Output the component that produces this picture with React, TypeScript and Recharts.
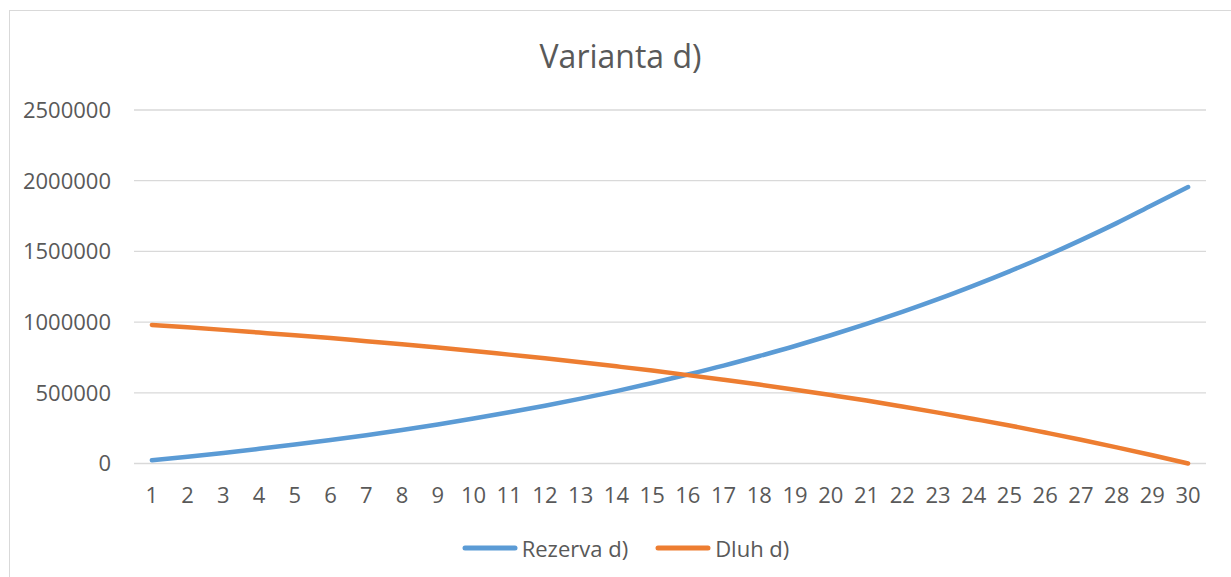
import { LineChart, Line, XAxis, YAxis, CartesianGrid } from 'recharts';

const years = [1, 2, 3, 4, 5, 6, 7, 8, 9, 10, 11, 12, 13, 14, 15, 16, 17, 18, 19, 20, 21, 22, 23, 24, 25, 26, 27, 28, 29, 30];

// rounded
const rezerva = [
  23000, 48000, 75000, 104000, 134000, 166000, 200000, 237000, 276000, 318000,
  362000, 409000, 459000, 512000, 569000, 629000, 692000, 760000, 831000, 907000,
  987000, 1072000, 1162000, 1258000, 1359000, 1466000, 1580000, 1700000, 1828000, 1955000,
];

const dluh = [
  980000, 963000, 945000, 926000, 907000, 887000, 865000, 843000, 820000, 796000,
  770000, 744000, 716000, 687000, 657000, 625000, 592000, 558000, 522000, 484000,
  445000, 403000, 360000, 315000, 269000, 219000, 168000, 114000, 58000, 0,
];

const yTicks = [0, 500000, 1000000, 1500000, 2000000, 2500000];

const series = [
  { key: 'rezerva', name: 'Rezerva d)', color: '#5B9BD5' },
  { key: 'dluh', name: 'Dluh d)', color: '#ED7D31' },
];

const data = years.map((y, i) => ({ year: y, rezerva: rezerva[i], dluh: dluh[i] }));

const FONT = '"Open Sans", "Noto Sans", sans-serif';
const GREY = '#595959';

function ExcelLegend() {
  return (
    <div style={{ position: 'absolute', left: 10, top: 533, width: 1231, display: 'flex', justifyContent: 'center', alignItems: 'center', fontFamily: FONT, fontSize: 22, color: GREY }}>
      {series.map((s, i) => (
        <div key={s.key} style={{ display: 'flex', alignItems: 'center', marginLeft: i ? 27 : 0 }}>
          <svg width={56} height={10} style={{ marginRight: 4 }}>
            <line x1={3} y1={5} x2={53} y2={5} stroke={s.color} strokeWidth={5} strokeLinecap="round" />
          </svg>
          <span>{s.name}</span>
        </div>
      ))}
    </div>
  );
}

export default function App() {
  return (
    <div style={{ position: 'absolute', left: 0, top: 0, width: 1231, height: 577, overflow: 'hidden', background: '#fff' }}>
      <div style={{ position: 'absolute', left: 9, top: 10, width: 1260, height: 620, border: '1.5px solid #d9d9d9', boxSizing: 'border-box' }} />
      <div style={{ position: 'absolute', left: 0, top: 34, width: 1241, textAlign: 'center', fontFamily: FONT, fontSize: 32, color: GREY }}>
        Varianta d)
      </div>
      <LineChart
        width={1231}
        height={577}
        data={data}
        margin={{ top: 110, right: 25, bottom: 83.5, left: 0 }}
        style={{ position: 'absolute', left: 0, top: 0 }}
      >
        <CartesianGrid vertical={false} stroke="#d9d9d9" strokeWidth={1.3} />
        <XAxis
          dataKey="year"
          axisLine={false}
          tickLine={false}
          tickSize={0}
          tickMargin={24}
          interval={0}
          padding={{ left: 17.9, right: 17.9 }}
          tick={{ fill: GREY, fontSize: 22, fontFamily: FONT }}
        />
        <YAxis
          width={134}
          domain={[0, 2500000]}
          ticks={yTicks}
          axisLine={false}
          tickLine={false}
          tickSize={0}
          tickMargin={23}
          tick={{ fill: GREY, fontSize: 22, fontFamily: FONT }}
        />
        {series.map((s) => (
          <Line
            key={s.key}
            type="monotone"
            dataKey={s.key}
            name={s.name}
            stroke={s.color}
            strokeWidth={4.5}
            strokeLinecap="round"
            dot={false}
            isAnimationActive={false}
          />
        ))}
      </LineChart>
      <ExcelLegend />
    </div>
  );
}
